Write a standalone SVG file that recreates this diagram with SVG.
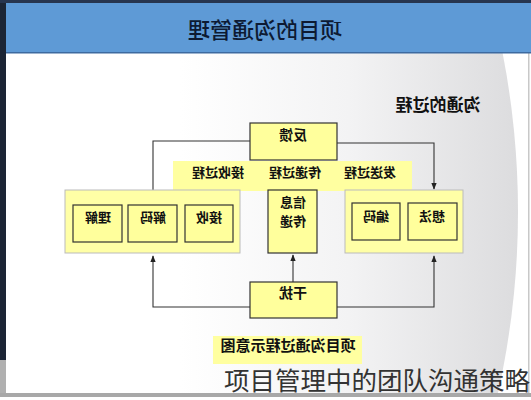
<svg xmlns="http://www.w3.org/2000/svg" width="531" height="400" viewBox="0 0 531 400">
<defs>
<linearGradient id="bg" gradientUnits="userSpaceOnUse" x1="180" y1="0" x2="518" y2="0">
<stop offset="0" stop-color="#ffffff"/>
<stop offset="0.5" stop-color="#f3f3f4"/>
<stop offset="1" stop-color="#dcdcde"/>
</linearGradient>
<clipPath id="cl"><rect x="6" y="53" width="521" height="340"/></clipPath>
<marker id="ah" viewBox="0 0 10 10" refX="9" refY="5" markerWidth="6" markerHeight="6" orient="auto">
<path d="M0,1 L10,5 L0,9 z" fill="#222"/>
</marker>
<style>
.box{fill:#ffff9c;stroke:#333;stroke-width:1.2}
.outer{fill:#ffffa6;stroke:#bbb;stroke-width:1}
.lbl{font-family:"Noto Sans CJK SC","Noto Sans CJK JP",sans-serif;font-weight:bold;fill:#111;text-anchor:middle}
.con{fill:none;stroke:#333;stroke-width:1.1}
</style>
</defs>
<rect width="531" height="400" fill="#ffffff"/>
<circle cx="-311" cy="212" r="829" fill="url(#bg)" clip-path="url(#cl)"/>
<rect x="528" y="53" width="1.5" height="340" fill="#c8c8c8"/>
<rect x="0" y="0" width="6" height="360" fill="#1c2535"/>
<rect x="0" y="360" width="6" height="36" fill="#b0b0b0"/>
<rect x="0" y="0" width="531" height="3" fill="#27354f"/>
<rect x="6" y="3" width="525" height="50" fill="#5e9ad6"/>
<rect x="6" y="52" width="525" height="1.5" fill="#3d6aa0"/>
<rect x="0" y="393" width="531" height="4" fill="#a8a8a8"/>

<g id="band"><rect x="173" y="161" width="239" height="30" fill="#ffffa0"/></g>
<g id="highlight"><rect x="213" y="336" width="149" height="28" fill="#ffffa0"/></g>

<g id="connectors">
<polyline class="con" points="250,141 153,141 153,190"/>
<polyline class="con" points="337,143 434,143 434,189" marker-end="url(#ah)"/>
<polyline class="con" points="250,307 153,307 153,256" marker-end="url(#ah)"/>
<line class="con" x1="293" y1="282" x2="293" y2="255" marker-end="url(#ah)"/>
<polyline class="con" points="337,307 434,307 434,256" marker-end="url(#ah)"/>
</g>

<g id="feedback"><rect class="box" x="250" y="123" width="87" height="37"/></g>
<g id="receive"><rect class="outer" x="65" y="190" width="175" height="63"/>
<rect class="box" x="73" y="205" width="49" height="37"/>
<rect class="box" x="128" y="205" width="49" height="37"/>
<rect class="box" x="185" y="205" width="48" height="37"/></g>
<g id="transmit"><rect class="box" x="268" y="190" width="49" height="63"/></g>
<g id="send"><rect class="outer" x="345" y="190" width="118" height="63"/>
<rect class="box" x="352" y="203" width="48" height="37"/>
<rect class="box" x="408" y="203" width="49" height="37"/></g>
<g id="noise"><rect class="box" x="250" y="282" width="87" height="36"/></g>

<g id="texts" transform="matrix(-1 0 0 1 531 0)">
<text x="266" y="38" font-family="Noto Sans CJK SC, sans-serif" font-size="22" font-weight="500" fill="#0d1a33" text-anchor="middle">项目的沟通管理</text>
<text class="lbl" x="93" y="111" font-size="17">沟通的过程</text>
<text class="lbl" x="238" y="140" font-size="14">反馈</text>
<text class="lbl" x="313" y="177" font-size="13">接收过程</text>
<text class="lbl" x="236" y="177" font-size="13">传递过程</text>
<text class="lbl" x="161" y="177" font-size="13">发送过程</text>
<text class="lbl" x="433" y="222" font-size="13">理解</text>
<text class="lbl" x="378" y="222" font-size="13">解码</text>
<text class="lbl" x="322" y="222" font-size="13">接收</text>
<text class="lbl" x="238" y="207" font-size="13">信息</text>
<text class="lbl" x="238" y="226" font-size="13">传递</text>
<text class="lbl" x="155" y="221" font-size="13">编码</text>
<text class="lbl" x="99" y="221" font-size="13">想法</text>
<text class="lbl" x="238" y="298" font-size="14">干扰</text>
<text class="lbl" x="243" y="351" font-size="15">项目沟通过程示意图</text>
</g>
<text x="530" y="390" font-family="Noto Sans CJK SC, sans-serif" font-size="25.5" fill="#333" text-anchor="end">项目管理中的团队沟通策略</text>
</svg>
